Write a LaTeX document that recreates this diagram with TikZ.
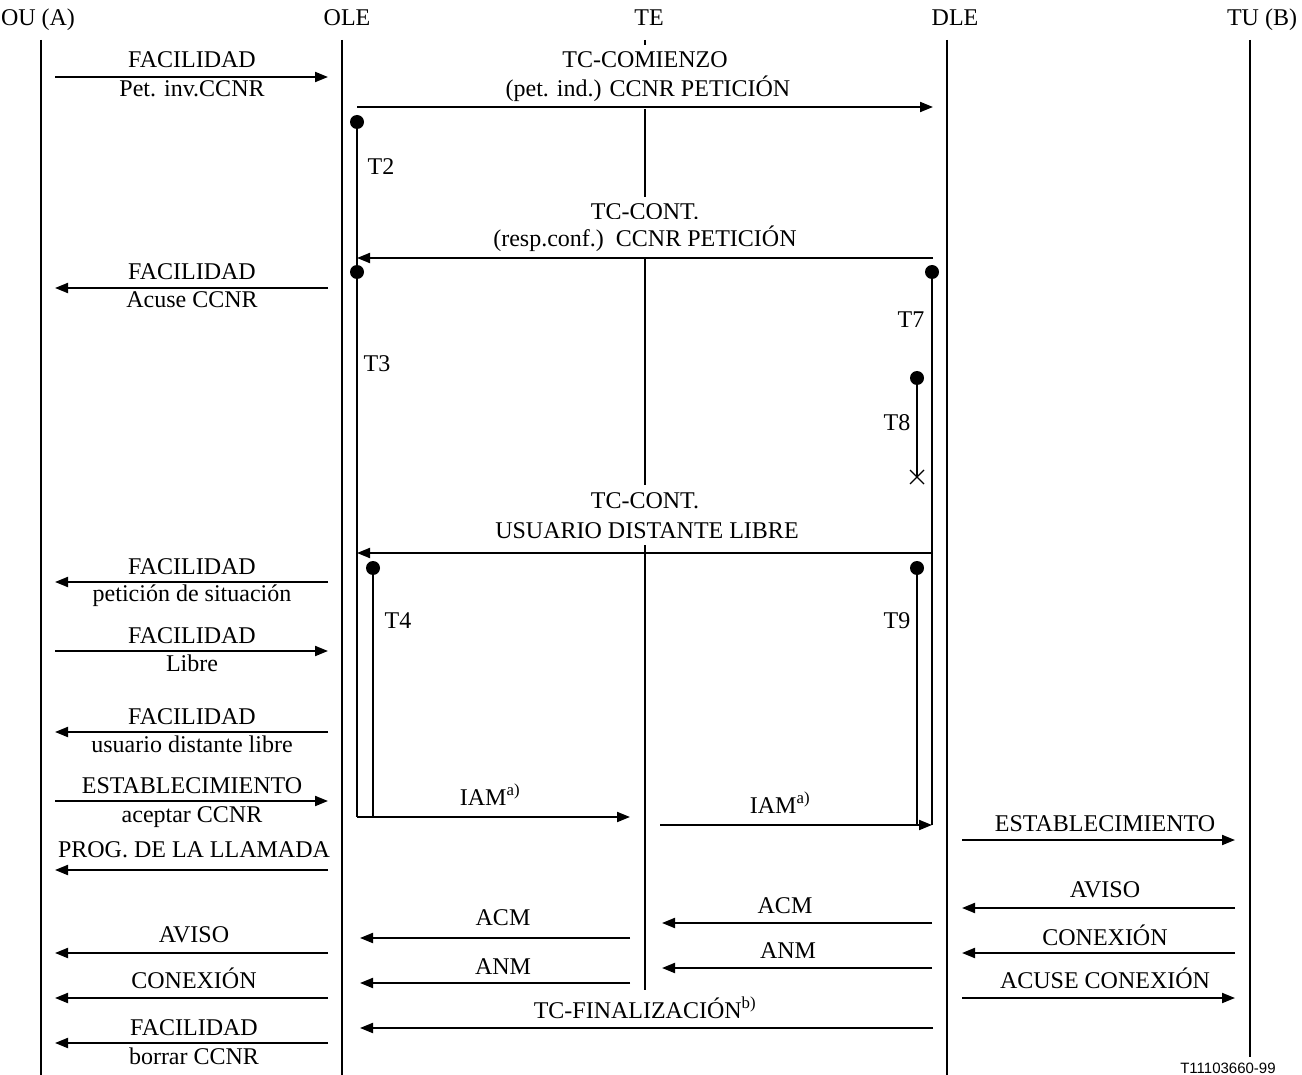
\documentclass[tikz,border=0pt]{standalone}
\usepackage{fontspec}
\setmainfont{Liberation Serif}
\newfontfamily\codefont{Liberation Sans}
\usetikzlibrary{arrows.meta}
\tikzset{
  life/.style={line width=2pt},
  msg/.style={line width=2pt,-{Triangle[length=13pt,width=10pt]}},
  tdot/.style={circle,fill,inner sep=0pt,minimum size=14pt},
  txt/.style={anchor=base,inner sep=0pt,font=\fontsize{24}{28}\selectfont},
  wtxt/.style={txt,fill=white,inner xsep=2pt,inner ysep=7pt},
}
\begin{document}
\begin{tikzpicture}[x=1pt,y=-1pt]
\useasboundingbox (0,0) rectangle (1302,1075);
% entities
\node[txt] (ou) at (38,26) {OU (A)};
\node[txt] (ole) at (347,26) {OLE};
\node[txt] (te) at (649,26) {TE};
\node[txt] (dle) at (955,26) {DLE};
\node[txt] (tu) at (1262,26) {TU (B)};
\draw[life] (41,40) -- (41,1075);
\draw[life] (342,40) -- (342,1075);
\draw[life] (645,40) -- (645,1000);
\draw[life] (947,40) -- (947,1075);
\draw[life] (1250,40) -- (1250,1057);
% TC labels over the TE line
\node[wtxt] (tcc1) at (645,68) {TC-COMIENZO};
\node[wtxt] (tcc2) at (648,97) {(pet. ind.) CCNR PETICIÓN};
\node[wtxt] (tcr1) at (645,220) {TC-CONT.};
\node[wtxt] (tcr2) at (645,247) {(resp.conf.)\ \ CCNR PETICIÓN};
\node[wtxt] (tcu1) at (645,508) {TC-CONT.};
\node[wtxt] (tcu2) at (647,538) {USUARIO DISTANTE LIBRE};
\node[wtxt] (tcf) at (645,1018) {TC-FINALIZACIÓN\textsuperscript{b)}};
% timers
\draw[life] (357,122) -- (357,817);
\draw[life] (373,568) -- (373,817);
\draw[life] (932,272) -- (932,825);
\draw[life] (917,568) -- (917,825);
\draw[life] (917,378) -- (917,477);
\draw[line width=1.3pt] (910,470) -- (924,484) (910,484) -- (924,470);
\node[tdot] (d2) at (357,122) {};
\node[tdot] (d3) at (357,272) {};
\node[tdot] (d4) at (373,568) {};
\node[tdot] (d7) at (932,272) {};
\node[tdot] (d8) at (917,378) {};
\node[tdot] (d9) at (917,568) {};
\node[txt] (t2) at (381,175) {T2};
\node[txt] (t3) at (377,372) {T3};
\node[txt] (t4) at (398,628) {T4};
\node[txt] (t7) at (911,328) {T7};
\node[txt] (t8) at (897,431) {T8};
\node[txt] (t9) at (897,628) {T9};
% OLE <-> DLE
\draw[msg] (357,107) -- (933,107);
\draw[msg] (933,258) -- (357,258);
\draw[msg] (933,553) -- (357,553);
\draw[msg] (933,1028) -- (360,1028);
% OU <-> OLE
\node[txt] (fa1) at (192,68) {FACILIDAD};
\node[txt] (fb1) at (192,97) {Pet. inv.CCNR};
\draw[msg] (55,77) -- (328,77);
\node[txt] (fa2) at (192,280) {FACILIDAD};
\node[txt] (fb2) at (192,308) {Acuse CCNR};
\draw[msg] (328,288) -- (55,288);
\node[txt] (fa3) at (192,574) {FACILIDAD};
\node[txt] (fb3) at (192,601) {petición de situación};
\draw[msg] (328,582) -- (55,582);
\node[txt] (fa4) at (192,643) {FACILIDAD};
\node[txt] (fb4) at (192,671) {Libre};
\draw[msg] (55,651) -- (328,651);
\node[txt] (fa5) at (192,724) {FACILIDAD};
\node[txt] (fb5) at (192,752) {usuario distante libre};
\draw[msg] (328,732) -- (55,732);
\node[txt] (fa6) at (192,793) {ESTABLECIMIENTO};
\node[txt] (fb6) at (192,822) {aceptar CCNR};
\draw[msg] (55,801) -- (328,801);
\node[txt] (pg) at (194,857) {PROG. DE LA LLAMADA};
\draw[msg] (328,870) -- (55,870);
\node[txt] (av1) at (194,942) {AVISO};
\draw[msg] (328,953) -- (55,953);
\node[txt] (cx1) at (194,988) {CONEXIÓN};
\draw[msg] (328,998) -- (55,998);
\node[txt] (fa7) at (194,1035) {FACILIDAD};
\node[txt] (fb7) at (194,1064) {borrar CCNR};
\draw[msg] (328,1043) -- (55,1043);
% OLE <-> TE <-> DLE
\node[txt] (iam1) at (490,805) {IAM\textsuperscript{a)}};
\draw[msg] (357,817) -- (630,817);
\node[txt] (iam2) at (780,813) {IAM\textsuperscript{a)}};
\draw[msg] (660,825) -- (932,825);
\node[txt] (acm2) at (785,913) {ACM};
\draw[msg] (932,923) -- (662,923);
\node[txt] (acm1) at (503,925) {ACM};
\draw[msg] (630,938) -- (360,938);
\node[txt] (anm2) at (788,958) {ANM};
\draw[msg] (932,968) -- (662,968);
\node[txt] (anm1) at (503,974) {ANM};
\draw[msg] (630,983) -- (360,983);
% DLE <-> TU
\node[txt] (est) at (1105,831) {ESTABLECIMIENTO};
\draw[msg] (962,840) -- (1235,840);
\node[txt] (av2) at (1105,897) {AVISO};
\draw[msg] (1235,908) -- (962,908);
\node[txt] (cx2) at (1105,945) {CONEXIÓN};
\draw[msg] (1235,953) -- (962,953);
\node[txt] (acx) at (1105,988) {ACUSE CONEXIÓN};
\draw[msg] (962,998) -- (1235,998);
\node[anchor=base,inner sep=0pt,font=\codefont\fontsize{15}{18}\selectfont] (code) at (1228,1073) {T11103660-99};
\end{tikzpicture}
\end{document}
